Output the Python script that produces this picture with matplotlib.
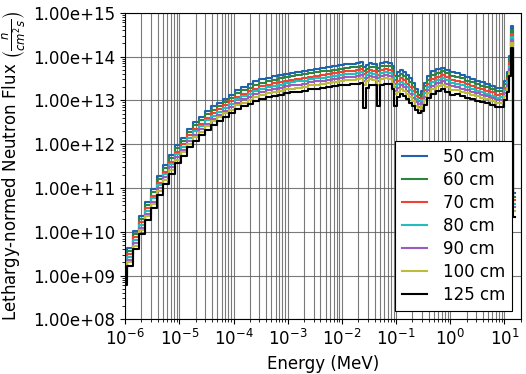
import numpy as np
import matplotlib
matplotlib.use("Agg")
import matplotlib.pyplot as plt
from matplotlib.ticker import FormatStrFormatter, LogLocator

# Energy bin edges (MeV)
energy_edges = [
    1.00e-6, 1.09e-6, 1.41e-6, 1.82e-6, 2.35e-6, 3.03e-6, 3.91e-6, 5.05e-6, 6.52e-6, 8.41e-6,
    1.09e-5, 1.40e-5, 1.81e-5, 2.34e-5, 3.02e-5, 3.90e-5, 5.03e-5, 6.50e-5, 8.39e-5,
    1.08e-4, 1.40e-4, 1.81e-4, 2.33e-4, 3.01e-4, 3.89e-4, 5.02e-4, 6.48e-4, 8.36e-4,
    1.08e-3, 1.39e-3, 1.80e-3, 2.33e-3, 3.00e-3, 3.88e-3, 5.01e-3, 6.46e-3, 8.34e-3,
    1.08e-2, 1.41e-2, 1.82e-2, 2.16e-2, 2.45e-2, 2.79e-2, 3.16e-2, 3.60e-2, 4.36e-2, 5.06e-2,
    6.00e-2, 7.11e-2, 8.25e-2, 8.98e-2, 0.106, 0.118, 0.134, 0.153, 0.173, 0.197, 0.224,
    0.249, 0.283, 0.321, 0.373, 0.442, 0.547, 0.676, 0.802, 0.991, 1.23, 1.52, 1.88, 2.32,
    2.87, 3.55, 4.39, 5.43, 6.72, 8.31, 9.64, 10.96, 11.94, 13.0, 14.2, 15.7,
]

# log10 of lethargy-normed flux per bin
flux_50cm = [
    9.21, 9.64, 10.02, 10.37, 10.69, 10.97, 11.27, 11.52, 11.75, 11.98, 12.15, 12.35, 12.50,
    12.62, 12.75, 12.86, 12.95, 13.04, 13.13, 13.23, 13.31, 13.37, 13.43, 13.48, 13.52, 13.55,
    13.58, 13.61, 13.63, 13.65, 13.67, 13.70, 13.72, 13.74, 13.76, 13.78, 13.80,
    13.82, 13.84, 13.85, 13.87, 13.75, 13.80, 13.85, 13.84, 13.74, 13.86,
    13.87, 13.86, 13.78, 13.55, 13.64, 13.69, 13.65, 13.58, 13.50, 13.40,
    13.27, 13.13, 13.22, 13.40, 13.56, 13.66, 13.71, 13.74, 13.70, 13.65,
    13.62, 13.58, 13.53, 13.49, 13.45, 13.41, 13.37, 13.33, 13.28, 13.29,
    13.45, 13.65, 14.02, 14.70, 10.88,
]
flux_60cm = [
    9.14, 9.57, 9.95, 10.30, 10.62, 10.90, 11.20, 11.45, 11.68, 11.91, 12.08, 12.28, 12.43,
    12.55, 12.68, 12.79, 12.88, 12.97, 13.06, 13.16, 13.23, 13.29, 13.35, 13.40, 13.44, 13.47,
    13.50, 13.53, 13.55, 13.57, 13.59, 13.62, 13.64, 13.66, 13.68, 13.70, 13.72,
    13.74, 13.76, 13.77, 13.79, 13.67, 13.72, 13.77, 13.76, 13.66, 13.78,
    13.79, 13.78, 13.69, 13.46, 13.55, 13.60, 13.56, 13.48, 13.41, 13.31,
    13.19, 13.06, 13.14, 13.32, 13.47, 13.57, 13.63, 13.66, 13.62, 13.56,
    13.54, 13.50, 13.45, 13.41, 13.37, 13.33, 13.30, 13.26, 13.21, 13.22,
    13.37, 13.57, 13.94, 14.61, 10.80,
]
flux_70cm = [
    9.06, 9.49, 9.87, 10.22, 10.54, 10.82, 11.12, 11.37, 11.60, 11.83, 12.00, 12.20, 12.35,
    12.47, 12.60, 12.71, 12.80, 12.89, 12.98, 13.08, 13.15, 13.21, 13.27, 13.32, 13.36, 13.39,
    13.42, 13.45, 13.47, 13.49, 13.51, 13.54, 13.56, 13.58, 13.60, 13.62, 13.64,
    13.66, 13.68, 13.69, 13.71, 13.59, 13.64, 13.69, 13.68, 13.58, 13.70,
    13.71, 13.70, 13.60, 13.38, 13.44, 13.50, 13.46, 13.38, 13.31, 13.21,
    13.10, 12.98, 13.06, 13.23, 13.38, 13.48, 13.54, 13.57, 13.53, 13.47,
    13.45, 13.41, 13.37, 13.33, 13.29, 13.25, 13.22, 13.18, 13.13, 13.14,
    13.29, 13.49, 13.86, 14.52, 10.72,
]
flux_80cm = [
    9.00, 9.43, 9.81, 10.16, 10.48, 10.76, 11.06, 11.31, 11.54, 11.77, 11.94, 12.14, 12.29,
    12.41, 12.54, 12.65, 12.74, 12.83, 12.92, 13.02, 13.09, 13.15, 13.21, 13.26, 13.30, 13.33,
    13.36, 13.39, 13.41, 13.43, 13.45, 13.48, 13.50, 13.52, 13.54, 13.56, 13.58,
    13.59, 13.61, 13.62, 13.64, 13.52, 13.57, 13.62, 13.61, 13.51, 13.63,
    13.64, 13.63, 13.53, 13.30, 13.37, 13.42, 13.38, 13.31, 13.23, 13.14,
    13.03, 12.92, 13.00, 13.16, 13.31, 13.41, 13.47, 13.50, 13.46, 13.40,
    13.38, 13.34, 13.30, 13.26, 13.22, 13.19, 13.15, 13.11, 13.06, 13.07,
    13.23, 13.43, 13.79, 14.45, 10.64,
]
flux_90cm = [
    8.93, 9.36, 9.74, 10.09, 10.41, 10.69, 10.99, 11.24, 11.47, 11.70, 11.87, 12.07, 12.22,
    12.34, 12.47, 12.58, 12.67, 12.76, 12.85, 12.95, 13.02, 13.08, 13.14, 13.19, 13.23, 13.26,
    13.29, 13.32, 13.34, 13.36, 13.38, 13.41, 13.43, 13.45, 13.47, 13.49, 13.51,
    13.53, 13.54, 13.55, 13.57, 13.44, 13.51, 13.55, 13.54, 13.43, 13.56,
    13.57, 13.56, 13.45, 13.22, 13.28, 13.34, 13.30, 13.22, 13.15, 13.06,
    12.96, 12.85, 12.93, 13.08, 13.23, 13.33, 13.39, 13.43, 13.38, 13.32,
    13.31, 13.27, 13.23, 13.19, 13.16, 13.12, 13.09, 13.05, 13.00, 13.01,
    13.16, 13.36, 13.72, 14.37, 10.56,
]
flux_100cm = [
    8.87, 9.30, 9.68, 10.03, 10.35, 10.63, 10.93, 11.18, 11.41, 11.64, 11.81, 12.01, 12.16,
    12.28, 12.41, 12.52, 12.61, 12.70, 12.79, 12.89, 12.95, 13.01, 13.07, 13.12, 13.16, 13.19,
    13.22, 13.25, 13.27, 13.29, 13.31, 13.34, 13.36, 13.38, 13.40, 13.42, 13.44,
    13.46, 13.47, 13.48, 13.50, 13.36, 13.44, 13.48, 13.47, 13.35, 13.49,
    13.50, 13.49, 13.37, 13.14, 13.20, 13.26, 13.22, 13.14, 13.07, 12.98,
    12.88, 12.79, 12.86, 13.01, 13.16, 13.26, 13.32, 13.36, 13.31, 13.24,
    13.24, 13.20, 13.16, 13.12, 13.09, 13.05, 13.02, 12.98, 12.93, 12.94,
    13.09, 13.29, 13.65, 14.30, 10.48,
]
flux_125cm = [
    8.79, 9.22, 9.60, 9.95, 10.27, 10.55, 10.85, 11.10, 11.33, 11.56, 11.73, 11.93, 12.08,
    12.20, 12.33, 12.44, 12.53, 12.62, 12.71, 12.81, 12.86, 12.92, 12.98, 13.03, 13.07, 13.10,
    13.13, 13.16, 13.18, 13.20, 13.22, 13.25, 13.27, 13.29, 13.31, 13.33, 13.35,
    13.36, 13.37, 13.38, 13.40, 12.82, 13.28, 13.34, 13.35, 12.87, 13.36,
    13.38, 13.37, 13.26, 12.88, 13.08, 13.14, 13.10, 13.02, 12.95, 12.87,
    12.78, 12.70, 12.76, 12.90, 13.05, 13.15, 13.21, 13.26, 13.20, 13.13,
    13.14, 13.10, 13.06, 13.02, 12.99, 12.96, 12.93, 12.89, 12.84, 12.85,
    13.00, 13.20, 13.55, 14.19, 10.34,
]

labels = ["50 cm", "60 cm", "70 cm", "80 cm", "90 cm", "100 cm", "125 cm"]
series = [flux_50cm, flux_60cm, flux_70cm, flux_80cm, flux_90cm, flux_100cm, flux_125cm]
colors = ["#1f63b0", "#2a8540", "#f04232", "#22bdbd", "#9b5cc0", "#bdbb3a", "#000000"]

fig = plt.figure(figsize=(5.26, 3.74), dpi=100)
ax = fig.add_axes([0.238, 0.146, 0.752, 0.820])

edges = np.array(energy_edges)
for vals, lab, col in zip(series, labels, colors):
    v = 10.0 ** np.array(vals)
    ax.step(edges, np.append(v, v[-1]), where="post", color=col, lw=1.5, label=lab)

ax.set_xscale("log")
ax.set_yscale("log")
ax.set_xlim(1e-6, 20)
ax.set_ylim(1e8, 1e15)

ax.yaxis.set_major_locator(LogLocator(base=10, numticks=20))
ax.yaxis.set_minor_locator(LogLocator(base=10, subs=np.arange(2, 10), numticks=100))
ax.xaxis.set_major_locator(LogLocator(base=10, numticks=20))
ax.xaxis.set_minor_locator(LogLocator(base=10, subs=np.arange(2, 10), numticks=100))
ax.yaxis.set_major_formatter(FormatStrFormatter("%.2e"))

ax.grid(True, which="major", axis="both", color="0.35", lw=0.8, alpha=0.8)
ax.grid(True, which="minor", axis="x", color="0.35", lw=0.8, alpha=0.8)
ax.set_axisbelow(True)

ax.tick_params(labelsize=12)
ax.set_xlabel("Energy (MeV)", fontsize=12)
ax.set_ylabel(r"Lethargy-normed Neutron Flux $\left(\frac{n}{cm^2 s}\right)$", fontsize=12)

leg = ax.legend(loc="lower right", bbox_to_anchor=(0.979, 0.029), borderaxespad=0,
                fontsize=12, fancybox=False, edgecolor="black", framealpha=1,
                handlelength=1.5, handletextpad=1.0, labelspacing=0.3)
leg.get_frame().set_linewidth(0.8)

fig.savefig("out.png", dpi=100)
